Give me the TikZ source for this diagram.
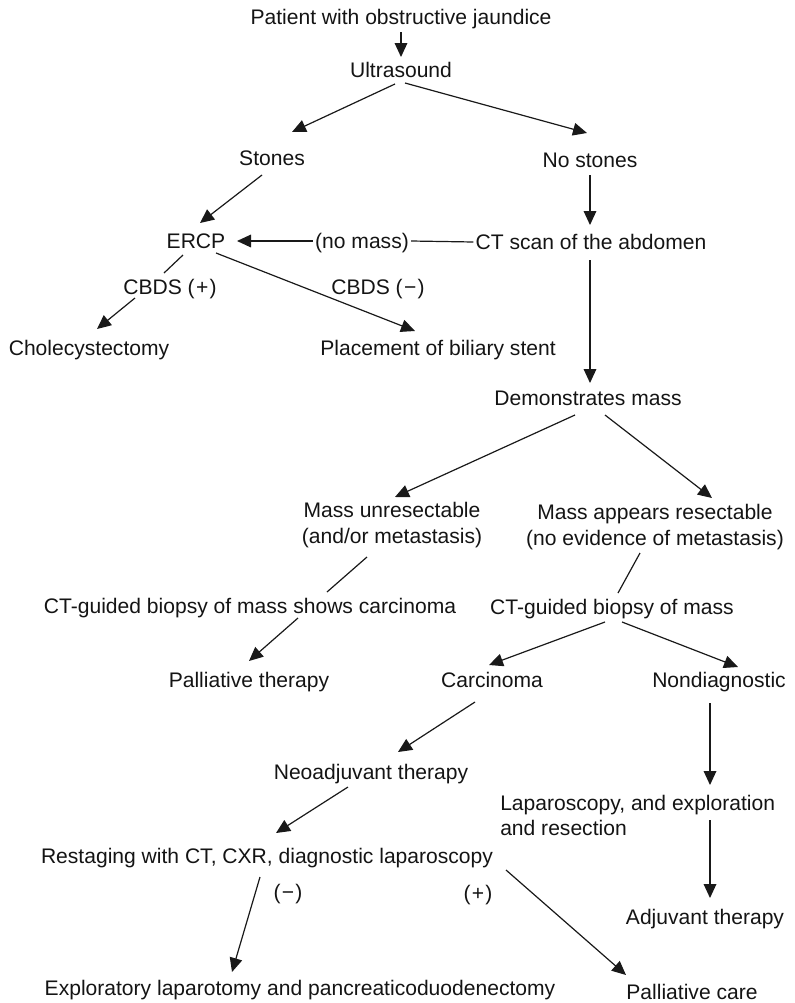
\documentclass[tikz,border=0pt]{standalone}
\usepackage{fontspec}
\setmainfont{Liberation Sans}
\usetikzlibrary{arrows.meta,calc}
\begin{document}
\begin{tikzpicture}[x=0.75pt,y=-0.75pt,
  every node/.style={font=\fontsize{15.8}{19.3}\selectfont, text=black!92, inner sep=1.5pt},
  lbl/.style={text height=13pt, text depth=2.2pt},
  two/.style={align=center},
  arr/.style={-{Triangle[length=10.5pt,width=9.5pt]}, line width=0.9pt, draw=black!90},
  plain/.style={line width=0.9pt, draw=black!90}]
\useasboundingbox (0,0) rectangle (794,1003);

% decision nodes
\node[lbl] (pat)   at (401,17)  {Patient with obstructive jaundice};
\node[lbl] (us)    at (401,70)  {Ultrasound};
\node[lbl] (st)    at (272,158) {Stones};
\node[lbl] (ns)    at (590,160) {No stones};
\node[lbl] (ercp)  at (196,241) {ERCP};
\node[lbl] (nm)    at (362,241) {(no mass)};
\node[lbl] (ct)    at (591,242) {CT scan of the abdomen};
\node[lbl] (cbp)   at (170,287) {CBDS (\kern1pt+\kern1pt)};
\node[lbl] (cbm)   at (378,287) {CBDS (\kern1pt−\kern1pt)};
\node[lbl] (chol)  at (89,348)  {Cholecystectomy};
\node[lbl] (stent) at (438,348) {Placement of biliary stent};
\node[lbl] (dm)    at (588,398) {Demonstrates mass};
\node[two] (mu)    at (392,525) {Mass unresectable\\(and/or metastasis)};
\node[two] (mr)    at (655,527) {Mass appears resectable\\(no evidence of metastasis)};
\node[lbl] (bsc)   at (250,606) {CT-guided biopsy of mass shows carcinoma};
\node[lbl] (bm)    at (612,607) {CT-guided biopsy of mass};
\node[lbl] (ptx)   at (249,680) {Palliative therapy};
\node[lbl] (carc)  at (492,680) {Carcinoma};
\node[lbl] (nond)  at (719,680) {Nondiagnostic};
\node[lbl] (neo)   at (371,772) {Neoadjuvant therapy};
\node[align=left, anchor=west] (lap) at (498,815.5) {Laparoscopy, and exploration\\and resection};
\node[lbl] (rest)  at (267,856) {Restaging with CT, CXR, diagnostic laparoscopy};
\node[lbl] (minus) at (288,892) {(\kern1pt−\kern1pt)};
\node[lbl] (plus)  at (478,893) {(\kern1pt+\kern1pt)};
\node[lbl] (adj)   at (705,917) {Adjuvant therapy};
\node[lbl] (expl)  at (300,988) {Exploratory laparotomy and pancreaticoduodenectomy};
\node[lbl] (pc)    at (692,992) {Palliative care};

% connectors
\draw[arr] ($(pat)+(0,15)$)   -- ($(us)+(0,-13)$);
\draw[arr] ($(us)+(-6,14)$)   -- ($(st)+(20,-26)$);
\draw[arr] ($(us)+(4,13)$)    -- ($(ns)+(-3,-27)$);
\draw[arr] ($(st)+(-10,17)$)  -- ($(ercp)+(4,-18)$);
\draw[arr] ($(ns)+(0,15)$)    -- ($(ct)+(-1,-17)$);
\draw[plain] (ct.west) -- (nm.east);
\draw[arr] (nm.west) -- ($(ercp)+(41,0)$);
\draw[plain] ($(ercp)+(-13,14)$) -- ($(cbp)+(-6,-14)$);
\draw[arr] ($(cbp)+(-35,11)$) -- ($(chol)+(8,-19)$);
\draw[arr] ($(ercp)+(20,12)$) -- ($(stent)+(-23,-17)$);
\draw[arr] ($(ct)+(-1,18)$)   -- ($(dm)+(2,-15)$);
\draw[arr] ($(dm)+(-13,17)$)  -- ($(mu)+(3,-28)$);
\draw[arr] ($(dm)+(17,17)$)   -- ($(mr)+(57,-29)$);
\draw[plain] ($(mu)+(-25,32)$) -- ($(bsc)+(77,-14)$);
\draw[plain] ($(mr)+(-15,26)$) -- ($(bm)+(6,-14)$);
\draw[arr] ($(bsc)+(48,12)$)  -- ($(ptx)+(0,-19)$);
\draw[arr] ($(bm)+(-7,15)$)   -- ($(carc)+(-3,-15)$);
\draw[arr] ($(bm)+(10,15)$)   -- ($(nond)+(19,-13)$);
\draw[arr] ($(carc)+(-17,22)$) -- ($(neo)+(27,-20)$);
\draw[arr] ($(nond)+(-9,23)$) -- ($(lap.west)+(212,-30.5)$);
\draw[arr] ($(neo)+(-23,15)$) -- ($(rest)+(9,-23)$);
\draw[arr] ($(lap.west)+(212,4.5)$) -- ($(adj)+(5,-19)$);
\draw[arr] ($(rest)+(-7,21)$) -- ($(expl)+(-68,-16)$);
\draw[arr] ($(rest)+(239,14)$) -- ($(pc)+(-66,-17)$);
\end{tikzpicture}
\end{document}
